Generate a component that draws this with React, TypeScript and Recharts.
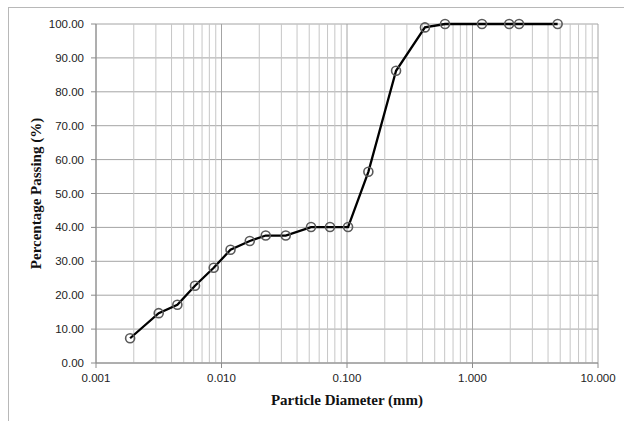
import { LineChart, Line, XAxis, YAxis, CartesianGrid, ReferenceLine, Label } from 'recharts'

// particle diameter (mm) and percent passing
const diameters = [
  0.00187, 0.00316, 0.00445, 0.00615, 0.00867, 0.0118, 0.0168, 0.0225, 0.0325, 0.0517,
  0.0732, 0.102, 0.148, 0.246, 0.418, 0.604, 1.19, 1.96, 2.35, 4.77,
]
const passing = [
  7.3, 14.7, 17.2, 22.8, 28.1, 33.4, 36.0, 37.6, 37.6, 40.1,
  40.1, 40.1, 56.4, 86.2, 99.0, 100, 100, 100, 100, 100,
]

const xTicks = [0.001, 0.01, 0.1, 1, 10]
const minorTicks = [0.001, 0.01, 0.1, 1].flatMap(m => [2, 3, 4, 5, 6, 7, 8, 9].map(k => k * m))
const yTicks = [0, 10, 20, 30, 40, 50, 60, 70, 80, 90, 100]

const data = diameters.map((d, i) => ({ d, p: passing[i] }))

const tickStyle = { fill: '#222', fontSize: 11.5, fontFamily: '"Liberation Sans", Arial, sans-serif' }
const titleFont = '"Liberation Serif", "Times New Roman", serif'

export default function App() {
  return (
    <div style={{ position: 'absolute', left: 0, top: 0, width: 624, height: 421, overflow: 'hidden', background: '#fff' }}>
      <div
        style={{
          position: 'absolute',
          left: 8,
          top: 7,
          width: 700,
          height: 500,
          border: '1px solid #b8b8b8',
        }}
      />
      <LineChart
        width={624}
        height={421}
        data={data}
        margin={{ top: 24, right: 26, bottom: 0, left: 0 }}
        style={{ position: 'absolute', left: 0, top: 0 }}
      >
        <CartesianGrid stroke="#a4a4a4" strokeWidth={1} />
        {minorTicks.map(v => (
          <ReferenceLine key={v} x={v} stroke="#c6c6c6" strokeWidth={1} ifOverflow="hidden" />
        ))}
        <XAxis
          dataKey="d"
          type="number"
          scale="log"
          domain={[0.001, 10]}
          ticks={xTicks}
          allowDataOverflow
          height={58}
          tick={tickStyle}
          tickSize={5}
          tickMargin={6}
          stroke="#8c8c8c"
          tickFormatter={v => Number(v).toFixed(3)}
        >
          <Label
            content={({ viewBox }: any) => (
              <text
                x={viewBox.x + viewBox.width / 2}
                y={viewBox.y + 42}
                textAnchor="middle"
                fontFamily={titleFont}
                fontWeight="bold"
                fontSize={15}
                fill="#111"
              >
                Particle Diameter (mm)
              </text>
            )}
          />
        </XAxis>
        <YAxis
          type="number"
          domain={[0, 100]}
          ticks={yTicks}
          width={96}
          tick={tickStyle}
          tickSize={5}
          tickMargin={7}
          stroke="#8c8c8c"
          tickFormatter={v => Number(v).toFixed(2)}
        >
          <Label
            content={({ viewBox }: any) => {
              const cx = 41
              const cy = viewBox.y + viewBox.height / 2
              return (
                <text
                  x={cx}
                  y={cy}
                  transform={`rotate(-90 ${cx} ${cy})`}
                  textAnchor="middle"
                  fontFamily={titleFont}
                  fontWeight="bold"
                  fontSize={15}
                  fill="#111"
                >
                  Percentage Passing (%)
                </text>
              )
            }}
          />
        </YAxis>
        <Line
          type="linear"
          dataKey="p"
          stroke="#000"
          strokeWidth={2.3}
          dot={{ r: 4.5, stroke: '#5a5a5a', strokeWidth: 1.6, fill: 'none' }}
          activeDot={false}
          isAnimationActive={false}
        />
      </LineChart>
    </div>
  )
}
